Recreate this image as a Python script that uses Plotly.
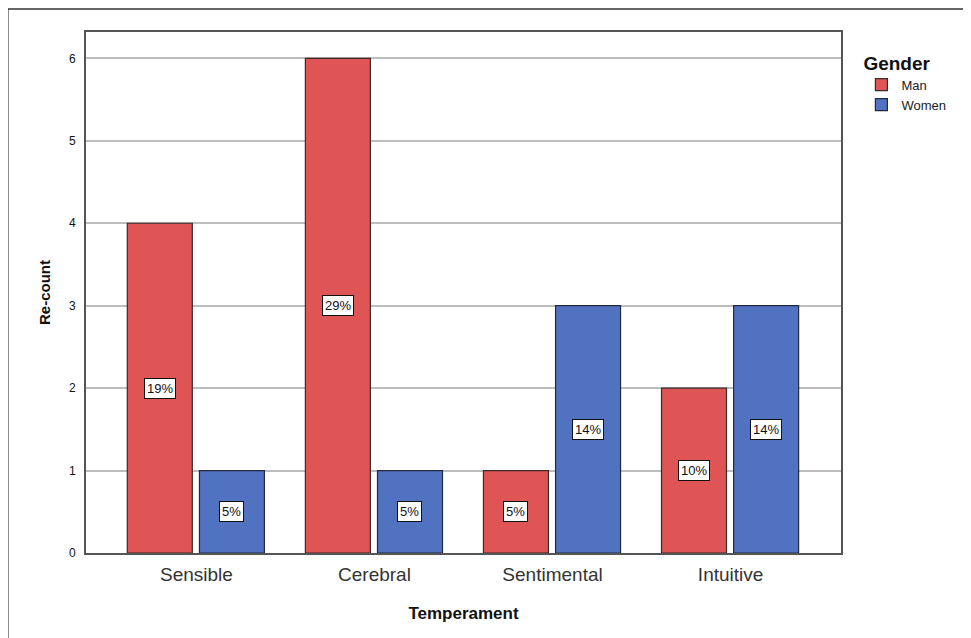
import plotly.graph_objects as go

categories = ["Sensible", "Cerebral", "Sentimental", "Intuitive"]
man_counts = [4, 6, 1, 2]
women_counts = [1, 1, 3, 3]
man_pct = ["19%", "29%", "5%", "10%"]
women_pct = ["5%", "5%", "14%", "14%"]

RED = "#DF5454"
BLUE = "#5171C1"

fig = go.Figure()
fig.add_trace(go.Bar(x=categories, y=man_counts, name="Man", marker=dict(color=RED, line=dict(color="#3a2a2a", width=1.2)),
                     width=0.365, offset=-0.388))
fig.add_trace(go.Bar(x=categories, y=women_counts, name="Women", marker=dict(color=BLUE, line=dict(color="#232a40", width=1.2)),
                     width=0.365, offset=0.017))

annotations = []
for i, c in enumerate(categories):
    for vals, pcts, off in ((man_counts, man_pct, -0.2055), (women_counts, women_pct, 0.1995)):
        annotations.append(dict(x=i + off, y=vals[i] / 2, xref="x", yref="y", text=pcts[i], showarrow=False,
                                bgcolor="white", bordercolor="#111", borderwidth=1, borderpad=2,
                                font=dict(family="Liberation Sans, Arial", size=13, color="#111")))

fig.update_layout(
    width=963, height=630,
    margin=dict(l=78, r=130, t=24, b=85),
    paper_bgcolor="white", plot_bgcolor="white",
    barmode="overlay",
    font=dict(family="Liberation Sans, Arial", color="#222"),
    annotations=annotations,
    showlegend=True,
    legend=dict(x=1.027, xanchor="left", y=0.975, yanchor="top", bgcolor="rgba(0,0,0,0)",
                title=dict(text="<b>Gender</b>", font=dict(size=19, color="#111")),
                font=dict(size=13, color="#222"), tracegroupgap=0, itemwidth=30),
    xaxis=dict(type="category", range=[-0.62, 3.62], showgrid=False, ticks="",
               tickfont=dict(size=19, color="#333"), ticklabelstandoff=3,
               title=dict(text="<b>Temperament</b>", font=dict(size=17, color="#111"), standoff=23),
               showline=True, linecolor="#555", linewidth=2, mirror=True),
    yaxis=dict(range=[0, 6.32], dtick=1, showgrid=True, gridcolor="#BDBDBD", gridwidth=1.5,
               ticks="", ticklabelstandoff=6, tickfont=dict(size=12, color="#111"),
               title=dict(text="<b>Re-count</b>", font=dict(size=15, color="#111"), standoff=15),
               showline=True, linecolor="#555", linewidth=2, mirror=True, zeroline=False),
    shapes=[
        dict(type="line", xref="paper", yref="paper", x0=-0.1033, x1=-0.1033, y0=1.0441, y1=-0.2, line=dict(color="#666", width=1.5)),
        dict(type="line", xref="paper", yref="paper", x0=-0.1033, x1=1.2, y0=1.0441, y1=1.0441, line=dict(color="#333", width=1.5)),
    ],
)

fig.write_html("out.html")
